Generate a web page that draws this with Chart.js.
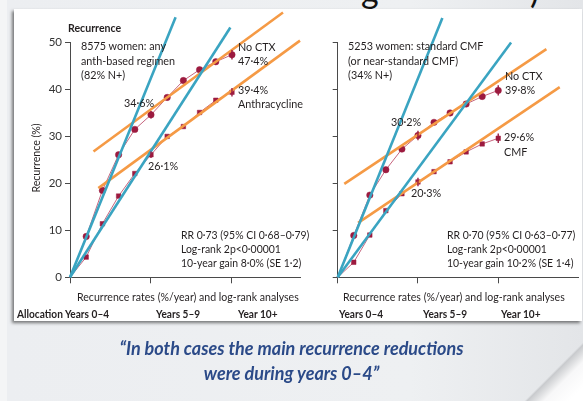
<!DOCTYPE html>
<html><head><meta charset="utf-8">
<script src="https://cdn.jsdelivr.net/npm/chart.js@4.4.1/dist/chart.umd.min.js"></script>
<style>
html,body{margin:0;padding:0;background:#fff;}
#page{position:relative;width:583px;height:401px;overflow:hidden;background:#f4f5f6;font-family:Lato,"Liberation Sans",sans-serif;}
#paper{position:absolute;left:7px;top:0;width:576px;height:401px;background:linear-gradient(90deg,#eceef1 0%,#eef0f2 70%,#e3e5e8 100%);}
#curl{position:absolute;left:520px;top:338px;width:70px;height:70px;background:linear-gradient(135deg,rgba(255,255,255,0) 48%,#c9cbce 50%,#f7f7f8 62%,#ffffff 80%);}
#panel{position:absolute;left:14px;top:9px;width:568px;height:312px;background:#fff;box-shadow:-2px 2px 3px rgba(0,0,0,0.5);}
canvas{position:absolute;left:0;top:0;}
.t{position:absolute;white-space:nowrap;font-size:11.5px;line-height:11px;color:#231f20;transform-origin:0 0;transform:scaleX(0.92);}
.m{font-size:12px;line-height:14.7px;transform:scaleX(0.9);}
.r{font-size:11.6px;line-height:14.2px;transform:scaleX(0.9);}
.b{font-weight:bold;font-size:11px;transform:scaleX(0.92);}
.q{position:absolute;left:0;width:583px;text-align:center;font-size:18px;line-height:25px;font-weight:bold;font-style:italic;color:#2b4a88;}
.ttl{position:absolute;font-size:34px;line-height:34px;color:#111;top:-27px;}
</style></head>
<body><div id="page">
<div id="paper"></div>
<div id="curl"></div>
<span class="ttl" style="left:361px">g</span><span class="ttl" style="left:530px">)</span>
<div id="panel"></div>
<canvas id="c1" width="583" height="401"></canvas>
<canvas id="c2" width="583" height="401"></canvas>

<div class="t b" style="left:68px;top:22px;font-size:11.5px">Recurrence</div>
<div class="t" style="left:35px;top:158px;transform-origin:50% 50%;transform:translate(-50%,-50%) rotate(-90deg) scaleX(0.92);">Recurrence (%)</div>
<div class="t m" style="left:81px;top:39px">8575 women: any<br>anth-based regimen<br>(82% N+)</div>
<div class="t m" style="left:238px;top:39.5px">No CTX<br>47·4%</div>
<div class="t m" style="left:238px;top:82.5px">39·4%<br>Anthracycline</div>
<div class="t m" style="left:124px;top:96px">34·6%</div>
<div class="t m" style="left:148px;top:159px">26·1%</div>
<div class="t r" style="left:181px;top:227.5px">RR 0·73 (95% CI 0·68–0·79)<br>Log-rank 2p&lt;0·00001<br>10-year gain 8·0% (SE 1·2)</div>
<div class="t" style="left:77px;top:290.5px">Recurrence rates (%/year) and log-rank analyses</div>
<div class="t b" style="left:17px;top:307.5px">Allocation Years 0–4</div>
<div class="t b" style="left:156px;top:307.5px">Years 5–9</div>
<div class="t b" style="left:238px;top:307.5px">Year 10+</div>

<div class="t m" style="left:347.7px;top:39px">5253 women: standard CMF<br>(or near-standard CMF)<br>(34% N+)</div>
<div class="t m" style="left:505px;top:68.5px">No CTX<br>39·8%</div>
<div class="t m" style="left:391px;top:115px">30·2%</div>
<div class="t m" style="left:504px;top:130px">29·6%<br>CMF</div>
<div class="t m" style="left:410.7px;top:186px">20·3%</div>
<div class="t r" style="left:446.7px;top:227.5px">RR 0·70 (95% CI 0·63–0·77)<br>Log-rank 2p&lt;0·00001<br>10-year gain 10·2% (SE 1·4)</div>
<div class="t" style="left:343.3px;top:290.5px">Recurrence rates (%/year) and log-rank analyses</div>
<div class="t b" style="left:339px;top:307.5px">Years 0–4</div>
<div class="t b" style="left:423px;top:307.5px">Years 5–9</div>
<div class="t b" style="left:501px;top:307.5px">Year 10+</div>

<div class="q" style="top:335.5px">“In both cases the main recurrence reductions<br>were during years 0–4”</div>
</div>
<script>
// ---- data ----
const years = [0,1,2,3,4,5,6,7,8,9,10];
const xTickValues = [0,5,10];
const yTickValues = [0,10,20,30,40,50];

const leftNoCtx   = [0, 8.7, 18.5, 26.1, 31.5, 34.6, 38.3, 41.9, 44.2, 45.9, 47.4];
const leftAnthra  = [0, 4.3, 11.4, 17.3, 22.1, 26.1, 30.0, 32.1, 35.1, 37.7, 39.4];
const leftNoCtxErr  = [0,0,0,0,0,0.8,0,0,0,0,1.0];
const leftAnthraErr = [0,0,0,0,0,0.7,0,0,0,0,0.9];

const rightNoCtx  = [0, 8.9, 17.5, 22.9, 27.3, 30.2, 33.0, 35.0, 36.9, 38.5, 39.8];
const rightCmf    = [0, 3.2, 9.0, 14.2, 17.8, 20.3, 22.5, 24.6, 26.7, 28.4, 29.6];
const rightNoCtxErr = [0,0,0,0,0,1.0,0,0,0,0,1.1];
const rightCmfErr   = [0,0,0,0,0,0.9,0,0,0,0,1.0];

// fitted trend lines: [start year, start %, end year, end %]
const leftBlueNoCtx    = [0, 0, 6.52, 55.4];
const leftBlueAnthra   = [0, 0, 9.9, 53.2];
const leftOrangeNoCtx  = [1.45, 26.8, 13.15, 56.4];
const leftOrangeAnthra = [1.75, 19.0, 14.2, 50.4];

const rightBlueNoCtx   = [0, 0, 6.52, 55.2];
const rightBlueCmf     = [0, 0, 10.8, 50.0];
const rightOrangeNoCtx = [0.41, 19.9, 13.0, 48.6];
const rightOrangeCmf   = [1.27, 11.6, 13.83, 40.5];

// ---- styling ----
const BLUE = '#3aa4c1', ORANGE = '#f59a45', MARK = '#9c1a3f', LINK = '#c6657e';
const FONT = 'Lato, "Liberation Sans", sans-serif';

function pts(vals){ return years.map((x,i)=>({x:x, y:vals[i]})); }
function seg(a){ return [{x:a[0],y:a[1]},{x:a[2],y:a[3]}]; }
function fitDs(a, color){
  return {type:'line', data:seg(a), borderColor:color, borderWidth:2.6, pointRadius:0, clip:false, order:0};
}
function seriesDs(vals, errs, style){
  return {type:'line', data:pts(vals), errors:errs, borderColor:LINK, borderWidth:1,
    pointStyle:style, pointRadius:(c)=>c.dataIndex===0?0:3.2, pointBackgroundColor:MARK,
    pointBorderColor:MARK, pointBorderWidth:0.5, clip:false, order:2};
}

const errPlugin = {
  id:'errbars',
  afterDatasetsDraw(chart){
    const ctx = chart.ctx, xs = chart.scales.x, ys = chart.scales.y;
    chart.data.datasets.forEach(ds=>{
      if(!ds.errors) return;
      ds.data.forEach((p,j)=>{
        const e = ds.errors[j]; if(!e) return;
        const px = xs.getPixelForValue(p.x);
        ctx.save(); ctx.strokeStyle = MARK; ctx.lineWidth = 1.4;
        ctx.beginPath();
        ctx.moveTo(px, ys.getPixelForValue(p.y - e));
        ctx.lineTo(px, ys.getPixelForValue(p.y + e));
        ctx.stroke(); ctx.restore();
      });
    });
  }
};

function makeChart(id, cfg){
  const showYLabels = cfg.showYLabels;
  return new Chart(document.getElementById(id), {
    type:'line',
    data:{datasets:cfg.datasets},
    plugins:[errPlugin],
    options:{
      responsive:false, animation:false, devicePixelRatio:1,
      layout:{padding:{left:cfg.padLeft, right:cfg.padRight, top:42.5, bottom:401-277.3-6}},
      plugins:{legend:{display:false}, tooltip:{enabled:false}},
      scales:{
        x:{type:'linear', min:0, max:cfg.xMax,
          afterBuildTicks(s){ s.ticks = xTickValues.map(v=>({value:v})); },
          afterFit(s){ s.height = 6; },
          ticks:{display:false},
          grid:{drawOnChartArea:false, drawTicks:true, tickLength:6, color:'#4a4a4a', lineWidth:1},
          border:{display:true, color:'#4a4a4a', width:1}},
        y:{type:'linear', min:0, max:50,
          afterBuildTicks(s){ s.ticks = yTickValues.map(v=>({value:v})); },
          afterFit(s){ s.width = cfg.yWidth; },
          ticks:{display:showYLabels, padding:3, color:'#333', font:{family:FONT, size:11.5}},
          grid:{drawOnChartArea:false, drawTicks:true, tickLength:5, color:'#4a4a4a', lineWidth:1},
          border:{display:true, color:'#4a4a4a', width:1}}
      }
    }
  });
}

makeChart('c1', {
  padLeft:0, yWidth:70, padRight:583-300, xMax:14.2, showYLabels:true,
  datasets:[
    fitDs(leftBlueNoCtx, BLUE), fitDs(leftBlueAnthra, BLUE),
    fitDs(leftOrangeNoCtx, ORANGE), fitDs(leftOrangeAnthra, ORANGE),
    seriesDs(leftNoCtx, leftNoCtxErr, 'circle'),
    seriesDs(leftAnthra, leftAnthraErr, 'rect')
  ]
});
makeChart('c2', {
  padLeft:0, yWidth:337.7, padRight:583-580.7, xMax:15, showYLabels:false,
  datasets:[
    fitDs(rightBlueNoCtx, BLUE), fitDs(rightBlueCmf, BLUE),
    fitDs(rightOrangeNoCtx, ORANGE), fitDs(rightOrangeCmf, ORANGE),
    seriesDs(rightNoCtx, rightNoCtxErr, 'circle'),
    seriesDs(rightCmf, rightCmfErr, 'rect')
  ]
});
</script>
</body></html>
